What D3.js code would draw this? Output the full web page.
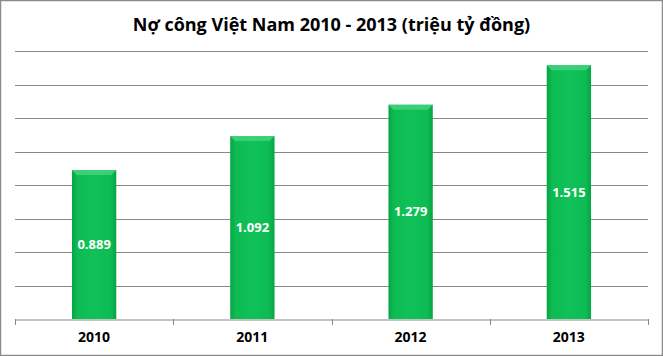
<!DOCTYPE html>
<html><head><meta charset="utf-8">
<script src="https://cdn.jsdelivr.net/npm/d3@7"></script>
<style>html,body{margin:0;padding:0;background:#fff;}svg{display:block;}</style>
</head><body>
<svg id="c" width="663" height="356"></svg>
<script>
const categories = ["2010", "2011", "2012", "2013"];
const values = [0.889, 1.092, 1.279, 1.515];
const valueLabels = ["0.889", "1.092", "1.279", "1.515"];
const yTicks = [0, 0.2, 0.4, 0.6, 0.8, 1.0, 1.2, 1.4, 1.6];
const title = "Nợ công Việt Nam 2010 - 2013 (triệu tỷ đồng)";

const W = 663, H = 356;
const m = {left: 15, right: 15, top: 51, bottom: 37};
const svg = d3.select("#c");

const defs = svg.append("defs");
const g1 = defs.append("linearGradient").attr("id","bg").attr("x1","0").attr("x2","1").attr("y1","0").attr("y2","0");
g1.append("stop").attr("offset","0").attr("stop-color","#07a445");
g1.append("stop").attr("offset","0.12").attr("stop-color","#0dbb52");
g1.append("stop").attr("offset","0.5").attr("stop-color","#0fc257");
g1.append("stop").attr("offset","0.88").attr("stop-color","#0dbb52");
g1.append("stop").attr("offset","1").attr("stop-color","#07a445");

svg.append("rect").attr("x",0.5).attr("y",0.5).attr("width",W-1).attr("height",H-1)
  .attr("fill","#fff").attr("stroke","#8c8c8c").attr("stroke-width",1.5);

const x = d3.scaleBand().domain(categories).range([m.left, W - m.right]).paddingInner(0.72).paddingOuter(0.36);
const xb = d3.scaleBand().domain(categories).range([m.left, W - m.right]);
const y = d3.scaleLinear().domain([0, 1.6]).range([H - m.bottom, m.top]);

// gridlines
svg.append("g").selectAll("line").data(yTicks.slice(1)).join("line")
  .attr("x1", m.left).attr("x2", W - m.right)
  .attr("y1", d => Math.round(y(d)) + 0.5).attr("y2", d => Math.round(y(d)) + 0.5)
  .attr("stroke", "#878787").attr("stroke-width", 1);

// bars
const bars = svg.append("g").selectAll("g").data(categories).join("g");
bars.append("rect")
  .attr("x", d => x(d)).attr("width", x.bandwidth())
  .attr("y", (d,i) => y(values[i])).attr("height", (d,i) => y(0) - y(values[i]))
  .attr("fill", "url(#bg)");
// top bevel
bars.append("path")
  .attr("d", (d,i) => {
    const x0 = x(d), x1 = x(d) + x.bandwidth(), t = y(values[i]), b = 5;
    return `M${x0},${t}L${x1},${t}L${x1-b},${t+b}L${x0+b},${t+b}Z`;
  })
  .attr("fill", "#3fd27c").attr("opacity", 0.9);

// value labels
bars.append("text")
  .attr("x", d => x(d) + x.bandwidth()/2)
  .attr("y", (d,i) => (y(values[i]) + y(0))/2)
  .attr("dy", "0.35em").attr("text-anchor","middle")
  .attr("fill","#fff").attr("font-family","Open Sans, sans-serif").attr("font-weight","bold")
  .attr("font-size", 13).text((d,i) => valueLabels[i]);

// x axis
const xAxis = d3.axisBottom(xb).tickSize(0).tickPadding(13);
const ax = svg.append("g").attr("transform", `translate(0,${Math.round(y(0))+0.5})`).call(xAxis);
ax.select(".domain").attr("stroke","#878787");
ax.selectAll("text").attr("font-family","Open Sans, sans-serif").attr("font-weight","bold")
  .attr("font-size", 14).attr("fill","#000");
// category boundary ticks
const bounds = categories.map(c => xb(c)).concat([W - m.right]);
svg.append("g").selectAll("line").data(bounds).join("line")
  .attr("x1", d => Math.round(d)+0.5).attr("x2", d => Math.round(d)+0.5)
  .attr("y1", Math.round(y(0))).attr("y2", Math.round(y(0)) + 6)
  .attr("stroke","#878787");

// title
svg.append("text").attr("x", W/2).attr("y", 31).attr("text-anchor","middle")
  .attr("font-family","Open Sans, sans-serif").attr("font-weight","bold").attr("font-size", 18)
  .attr("fill","#000").text(title);
</script>
</body></html>
